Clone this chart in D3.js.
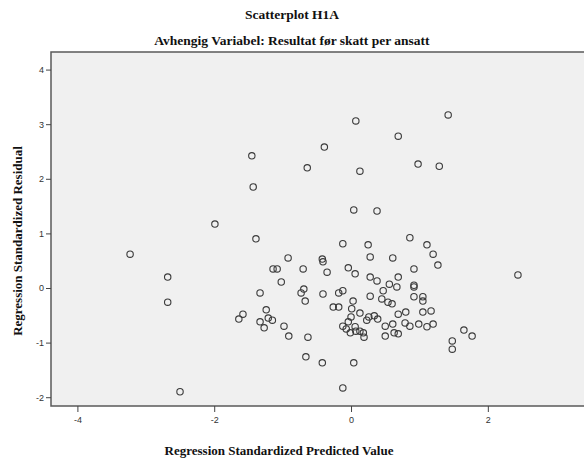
<!DOCTYPE html>
<html>
<head>
<meta charset="utf-8">
<script src="https://cdn.jsdelivr.net/npm/d3@7"></script>
<style>
  html, body { margin: 0; padding: 0; background: #ffffff; }
  svg { display: block; }
</style>
</head>
<body>
<svg id="chart" width="584" height="464"></svg>
<script>
// Regression diagnostics: standardized predicted value vs standardized residual
const predicted = [
  -3.23, -2.68, -2.68, -2.50, -1.99, -1.45, -1.43, -1.39, -0.64, -0.39,
   0.07,  0.69,  1.42,  0.13,  0.98,  1.29,  0.04,  0.38,  2.44, -0.12,
   0.25,  0.86,  1.11, -0.92, -1.14, -1.08, -1.02, -1.33, -1.24, -1.58,
  -1.64, -1.21, -1.15, -1.33, -1.27, -0.98, -0.91, -0.42, -0.41, -0.35,
  -0.70, -0.04,  0.06,  0.28,  0.28,  0.38,  0.61,  1.20,  1.27,  0.92,
   0.69,  0.56,  0.67,  0.92,  0.92, -0.69, -0.73, -0.67, -0.41, -0.18,
  -0.12,  0.03,  0.28,  0.47,  0.45,  0.54,  0.60,  0.92,  1.05,  1.05,
  -0.26, -0.18,  0.01,  0.13,  0.00, -0.04, -0.12, -0.07, -0.01,  0.06,
   0.07,  0.13,  0.18,  0.19,  0.23,  0.26,  0.34,  0.39,  0.69,  0.80,
   1.05,  1.17,  0.50,  0.61,  0.63,  0.69,  0.50,  0.79,  0.86,  0.99,
   1.11,  1.20,  1.65,  1.77,  1.48,  1.48, -0.63, -0.66, -0.42,  0.04,
  -0.12
];
const residual = [
   0.62,  0.20, -0.26, -1.90,  1.17,  2.42,  1.85,  0.90,  2.20,  2.58,
   3.06,  2.78,  3.17,  2.14,  2.27,  2.23,  1.43,  1.41,  0.24,  0.81,
   0.79,  0.92,  0.79,  0.55,  0.35,  0.35,  0.11, -0.09, -0.40, -0.48,
  -0.57, -0.55, -0.59, -0.62, -0.73, -0.70, -0.88,  0.53,  0.48,  0.29,
   0.35,  0.37,  0.26,  0.57,  0.20,  0.13,  0.55,  0.62,  0.42,  0.35,
   0.20,  0.07,  0.02,  0.05,  0.02, -0.02, -0.09, -0.24, -0.11, -0.09,
  -0.05, -0.24, -0.15, -0.05, -0.20, -0.26, -0.29, -0.16, -0.16, -0.24,
  -0.35, -0.35, -0.38, -0.46, -0.53, -0.62, -0.70, -0.75, -0.82, -0.71,
  -0.79, -0.79, -0.82, -0.90, -0.59, -0.53, -0.51, -0.57, -0.48, -0.44,
  -0.44, -0.42, -0.70, -0.66, -0.82, -0.84, -0.88, -0.64, -0.70, -0.66,
  -0.71, -0.66, -0.77, -0.88, -0.97, -1.12, -0.90, -1.26, -1.37, -1.37,
  -1.83
];
const xTicks = [-4, -2, 0, 2];
const yTicks = [-2, -1, 0, 1, 2, 3, 4];

const titleText = "Scatterplot H1A";
const subtitleText = "Avhengig Variabel: Resultat før skatt per ansatt";
const xLabel = "Regression Standardized Predicted Value";
const yLabel = "Regression Standardized Residual";

const svg = d3.select("#chart");
const plot = { left: 51, top: 52, right: 586, bottom: 406 };

const x = d3.scaleLinear().domain([-4.386, 3.435]).range([plot.left, plot.right]);
const y = d3.scaleLinear().domain([-2.161, 4.322]).range([plot.bottom, plot.top]);

// plot panel
svg.append("rect")
  .attr("x", plot.left).attr("y", plot.top)
  .attr("width", plot.right - plot.left).attr("height", plot.bottom - plot.top)
  .attr("fill", "#f0f0f0")
  .attr("stroke", "#5a5a5a").attr("stroke-width", 1.5);

// axes
const yAxis = d3.axisLeft(y).tickValues(yTicks).tickSize(5).tickPadding(2).tickFormat(d3.format("d"));
const xAxis = d3.axisBottom(x).tickValues(xTicks).tickSize(6).tickPadding(5).tickFormat(d3.format("d"));

const gy = svg.append("g").attr("transform", `translate(${plot.left},0)`).call(yAxis);
const gx = svg.append("g").attr("transform", `translate(0,${plot.bottom})`).call(xAxis);

[gx, gy].forEach(g => {
  g.select(".domain").remove();
  g.selectAll(".tick line").attr("stroke", "#444").attr("stroke-width", 1);
  g.selectAll(".tick text")
    .attr("fill", "#333")
    .style("font-family", "Arial, 'Liberation Sans', sans-serif")
    .style("font-size", "9px");
});
// minus signs as plain hyphens
gx.selectAll(".tick text").text(d => String(d));
gy.selectAll(".tick text").text(d => String(d));

// points
svg.append("g")
  .selectAll("circle")
  .data(predicted.map((v, i) => [v, residual[i]]))
  .join("circle")
  .attr("cx", d => x(d[0]))
  .attr("cy", d => y(d[1]))
  .attr("r", 3.2)
  .attr("fill", "none")
  .attr("stroke", "#3a3a3a")
  .attr("stroke-width", 1.1);

// titles
const serif = "'Liberation Serif', 'Times New Roman', serif";
function label(sel, size) {
  return sel.attr("text-anchor", "middle")
    .style("font-family", serif).style("font-weight", "bold").style("font-size", size)
    .attr("fill", "#111");
}
label(svg.append("text").attr("x", 292).attr("y", 19), "13.5px").text(titleText);
label(svg.append("text").attr("x", 292).attr("y", 45), "13.5px").text(subtitleText);
label(svg.append("text").attr("x", 279).attr("y", 455), "13px").text(xLabel);
label(svg.append("text").attr("transform", "translate(22,241) rotate(-90)"), "13px").text(yLabel);
</script>
</body>
</html>
